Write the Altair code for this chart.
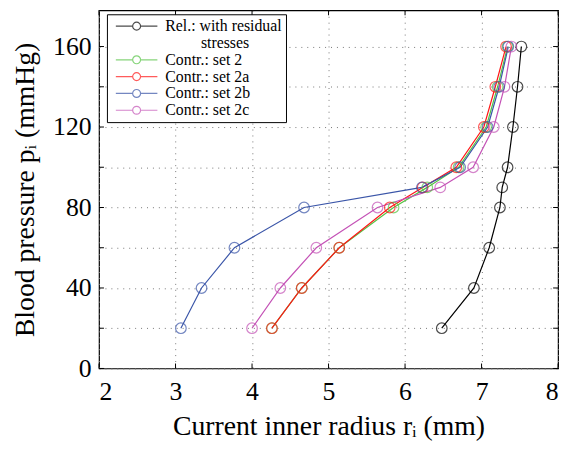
import altair as alt
import pandas as pd

pressure = [20, 40, 60, 80, 90, 100, 120, 140, 160]
r_rel = [6.48, 6.90, 7.10, 7.24, 7.27, 7.34, 7.41, 7.47, 7.52]
r_set2 = [4.26, 4.65, 5.14, 5.85, 6.29, 6.70, 7.06, 7.21, 7.34]
r_set2a = [4.26, 4.65, 5.14, 5.80, 6.23, 6.67, 7.03, 7.18, 7.32]
r_set2b = [3.07, 3.34, 3.77, 4.68, 6.22, 6.72, 7.08, 7.23, 7.35]
r_set2c = [4.00, 4.37, 4.84, 5.64, 6.46, 6.89, 7.16, 7.30, 7.39]

SECOND_LINE = "\u200b" + "\u00a0" * 9 + "stresses"
series_names = ["Rel.: with residual", SECOND_LINE, "Contr.: set 2", "Contr.: set 2a",
                "Contr.: set 2b", "Contr.: set 2c"]
series_colors = ["#000000", "rgba(0,0,0,0)", "#55c444", "#ff1616", "#3a55a8", "#c452b6"]

x_ticks = [2, 3, 4, 5, 6, 7, 8]
y_ticks = [0, 20, 40, 60, 80, 100, 120, 140, 160]

rows = []
for name, vals in [("Rel.: with residual", r_rel), ("Contr.: set 2", r_set2),
                   ("Contr.: set 2a", r_set2a), ("Contr.: set 2b", r_set2b),
                   ("Contr.: set 2c", r_set2c)]:
    for p, r in zip(pressure, vals):
        rows.append({"series": name, "r": r, "p": p})
df = pd.DataFrame(rows)

W, H = 464, 362
FONT = "Liberation Serif, Times New Roman, DejaVu Serif, serif"

xscale = alt.Scale(domain=[2, 8], nice=False, zero=False)
yscale = alt.Scale(domain=[0, 178], nice=False, zero=False)
xaxis = alt.Axis(values=x_ticks, title="Current inner radius rᵢ (mm)", labelPadding=10,
                 titlePadding=9)
yaxis = alt.Axis(values=y_ticks, title="Blood pressure pᵢ (mmHg)", labelPadding=8,
                 labelExpr="datum.value % 40 == 0 ? datum.label : ''", titlePadding=13)

color = alt.Color(
    "series:N",
    scale=alt.Scale(domain=series_names, range=series_colors),
    legend=alt.Legend(
        title=None, orient="none", legendX=8, legendY=4,
        fillColor="white", strokeColor="black", padding=4,
        labelFont=FONT, labelFontSize=16, labelColor="black",
        symbolType="M-5.25,0H-1M1,0H5.25M1,0A1,1,0,1,1,-1,0A1,1,0,1,1,1,0",
        symbolSize=64, symbolStrokeWidth=1.2, symbolOffset=18, labelOffset=21,
        rowPadding=1, symbolFillColor="transparent",
    ),
)

base = alt.Chart(df)
lines = base.mark_line(strokeWidth=1.2).encode(
    x=alt.X("r:Q", scale=xscale, axis=xaxis),
    y=alt.Y("p:Q", scale=yscale, axis=yaxis),
    color=color,
    order=alt.Order("p:Q"),
)
points = base.mark_point(filled=False, size=115, strokeWidth=1.2).encode(
    x=alt.X("r:Q", scale=xscale, axis=xaxis),
    y=alt.Y("p:Q", scale=yscale, axis=yaxis),
    color=color,
)

xt = alt.Chart(pd.DataFrame({"r": x_ticks}))
yt = alt.Chart(pd.DataFrame({"p": y_ticks}))
tick_bottom = xt.mark_rule(color="black").encode(
    x=alt.X("r:Q", scale=xscale, axis=xaxis), y=alt.value(H), y2=alt.value(H - 5))
tick_top = xt.mark_rule(color="black").encode(
    x=alt.X("r:Q", scale=xscale, axis=xaxis), y=alt.value(0), y2=alt.value(5))
tick_left = yt.mark_rule(color="black").encode(
    y=alt.Y("p:Q", scale=yscale, axis=yaxis), x=alt.value(0), x2=alt.value(5))
tick_right = yt.mark_rule(color="black").encode(
    y=alt.Y("p:Q", scale=yscale, axis=yaxis), x=alt.value(W), x2=alt.value(W - 5))

chart = alt.layer(lines, tick_bottom, tick_top, tick_left, tick_right, points).properties(
    width=W, height=H,
    autosize=alt.AutoSizeParams(type="none"),
    padding={"left": 92, "top": 0, "right": 6, "bottom": 74},
).configure_view(
    stroke="black", strokeWidth=1.2
).configure_axis(
    labelFont=FONT, labelFontSize=26, labelColor="black",
    titleFont=FONT, titleFontSize=28, titleFontWeight="normal", titleColor="black",
    grid=True, gridColor="#777777", gridDash=[1, 5], gridWidth=1,
    domain=False, ticks=False,
)

chart.save("out.html", embed_options={"renderer": "svg", "actions": False})
